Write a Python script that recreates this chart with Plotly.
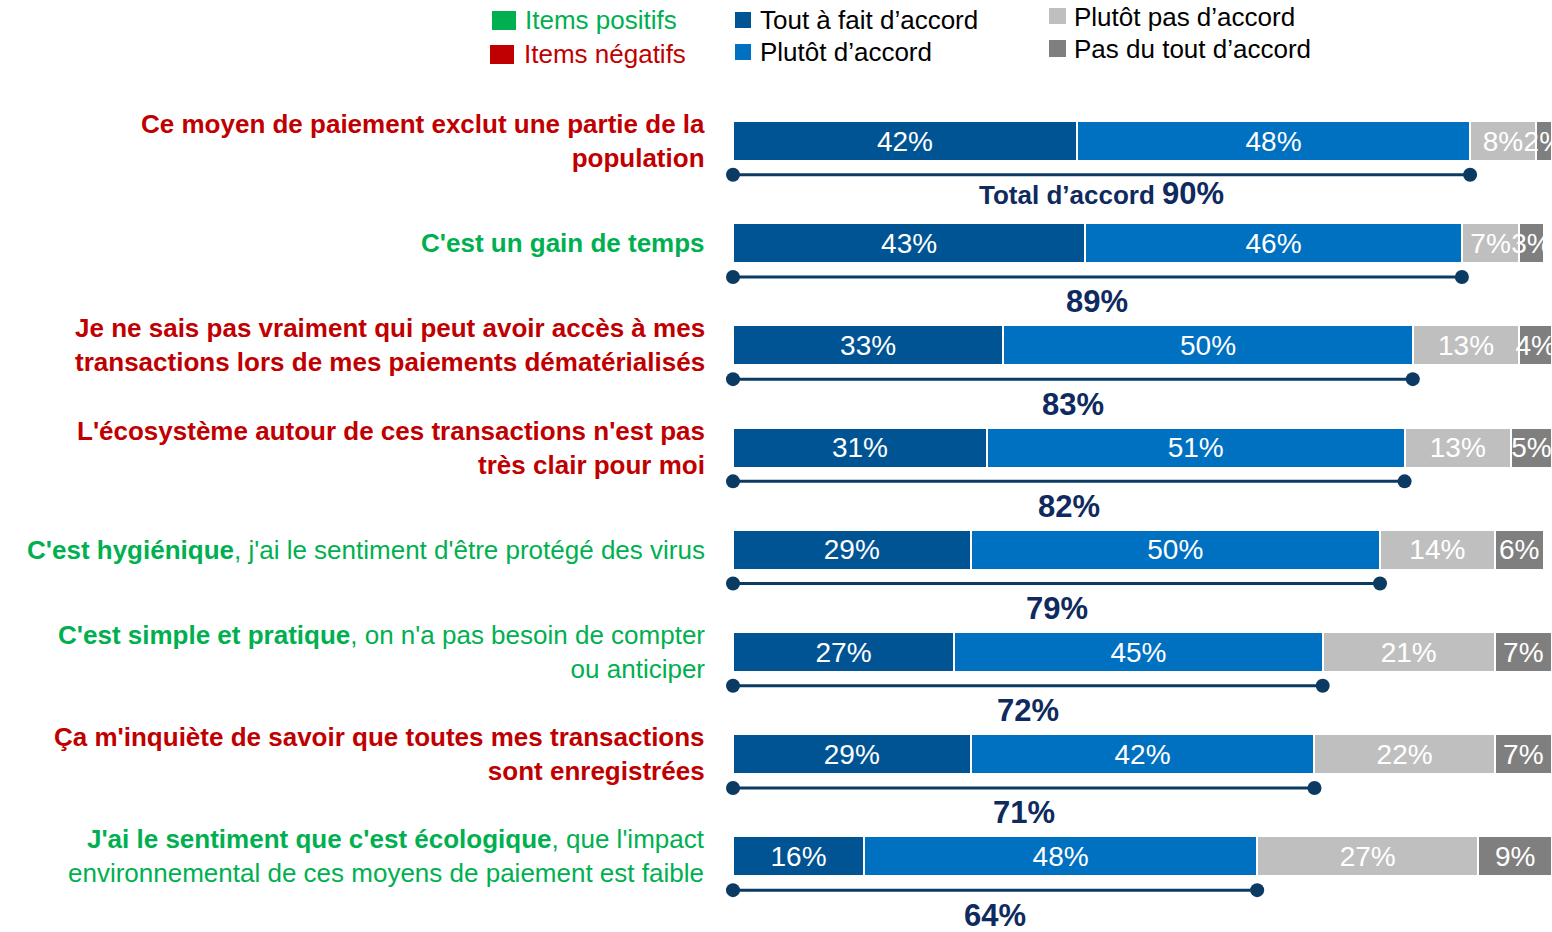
import plotly.graph_objects as go

# ---------------- data ----------------
labels = [
    "<b>Ce moyen de paiement exclut une partie de la<br>population</b>",
    "<b>C'est un gain de temps</b>",
    "<b>Je ne sais pas vraiment qui peut avoir accès à mes<br>transactions lors de mes paiements dématérialisés</b>",
    "<b>L'écosystème autour de ces transactions n'est pas<br>très clair pour moi</b>",
    "<b>C'est hygiénique</b>, j'ai le sentiment d'être protégé des virus",
    "<b>C'est simple et pratique</b>, on n'a pas besoin de compter<br>ou anticiper",
    "<b>Ça m'inquiète de savoir que toutes mes transactions<br>sont enregistrées</b>",
    "<b>J'ai le sentiment que c'est écologique</b>, que l'impact<br>environnemental de ces moyens de paiement est faible",
]
item_type = ["neg", "pos", "neg", "neg", "pos", "pos", "neg", "pos"]

tout_a_fait = [42, 43, 33, 31, 29, 27, 29, 16]
plutot = [48, 46, 50, 51, 50, 45, 42, 48]
plutot_pas = [8, 7, 13, 13, 14, 21, 22, 27]
pas_du_tout = [2, 3, 4, 5, 6, 7, 7, 9]
total_accord = [90, 89, 83, 82, 79, 72, 71, 64]

series_names = ["Tout à fait d’accord", "Plutôt d’accord", "Plutôt pas d’accord", "Pas du tout d’accord"]
series_values = [tout_a_fait, plutot, plutot_pas, pas_du_tout]

# ---------------- style ----------------
FONT = "Liberation Sans, Arial, sans-serif"
series_colors = ["#005493", "#0070C0", "#BFBFBF", "#7F7F7F"]
RED = "#C00000"
GREEN = "#00B050"
NAVY = "#0F2A5E"
LINE = "#0B3A63"

W, H = 1552, 932
ML, MR, MT, MB = 733, 0, 80, 0
PW, PH = W - ML - MR, H - MT - MB

def px_x(px):
    return (px - ML) / PW

def px_y(py):
    return (H - MB - py) / PH

rows = list(range(len(labels)))

fig = go.Figure()

for name, vals, col in zip(series_names, series_values, series_colors):
    fig.add_trace(go.Bar(
        y=rows, x=vals, orientation="h", name=name,
        width=0.39,
        marker=dict(color=col, line=dict(color="white", width=2)),
        text=[f"{v}%" for v in vals],
        textposition="inside", insidetextanchor="middle", textangle=0,
        textfont=dict(color="white", size=28, family=FONT),
        cliponaxis=False,
        showlegend=False, hoverinfo="skip",
    ))

LINE_OFF = 0.33
for i, t in zip(rows, total_accord):
    fig.add_trace(go.Scatter(
        x=[0, t], y=[i + LINE_OFF, i + LINE_OFF], mode="lines+markers",
        line=dict(color=LINE, width=3),
        marker=dict(color=LINE, size=14),
        cliponaxis=False, showlegend=False, hoverinfo="skip",
    ))
    if i == 0:
        txt = f"<b>Total d’accord <span style='font-size:31px'>{t}%</span></b>"
        off = 0.51
    else:
        txt = f"<b><span style='font-size:31px'>{t}%</span></b>"
        off = 0.575
    fig.add_annotation(x=t / 2, y=i + off, xref="x", yref="y", text=txt,
                       showarrow=False, xanchor="center", yanchor="middle",
                       font=dict(size=26, color=NAVY, family=FONT))

for i, (lab, typ) in enumerate(zip(labels, item_type)):
    fig.add_annotation(x=px_x(707), y=i + 0.0, xref="paper", yref="y", text=lab,
                       showarrow=False, xanchor="right", yanchor="middle", align="right",
                       font=dict(size=26, color=RED if typ == "neg" else GREEN, family=FONT))

# ---------------- legend ----------------
legend_items = [
    ("Items positifs", GREEN, GREEN, 492, 516, 11, 30, 523, 20),
    ("Items négatifs", RED, RED, 490, 514, 45, 64, 522, 54),
    (series_names[0], series_colors[0], "black", 735, 751, 12, 28, 758, 20),
    (series_names[1], series_colors[1], "black", 735, 751, 44, 60, 758, 52),
    (series_names[2], series_colors[2], "black", 1049, 1066, 8, 24, 1072, 17),
    (series_names[3], series_colors[3], "black", 1049, 1066, 40, 57, 1072, 49),
]
for text, sq, tc, x0, x1, y0, y1, tx, ty in legend_items:
    fig.add_shape(type="rect", xref="paper", yref="paper",
                  x0=px_x(x0), x1=px_x(x1), y0=px_y(y1), y1=px_y(y0),
                  fillcolor=sq, line=dict(width=0))
    fig.add_annotation(x=px_x(tx), y=px_y(ty), xref="paper", yref="paper", text=text,
                       showarrow=False, xanchor="left", yanchor="middle",
                       font=dict(size=26, color=tc, family=FONT))

y_top = -(141 - MT) / 102.2
y_bot = y_top + PH / 102.2

fig.update_layout(
    barmode="stack",
    width=W, height=H,
    margin=dict(l=ML, r=MR, t=MT, b=MB, pad=0),
    paper_bgcolor="white", plot_bgcolor="white",
    font=dict(family=FONT),
    uniformtext=dict(minsize=28, mode="show"),
    xaxis=dict(range=[0, 100], visible=False, fixedrange=True),
    yaxis=dict(range=[y_bot, y_top], visible=False, fixedrange=True),
    showlegend=False,
)

fig.write_html("out.html", config={"displayModeBar": False},
               post_script="document.body.style.margin='0';document.body.style.overflow='hidden';")
